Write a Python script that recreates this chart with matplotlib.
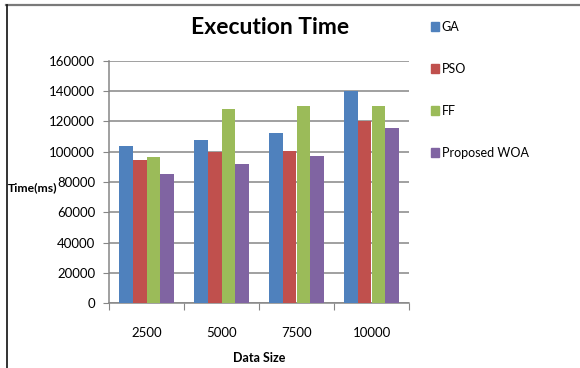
import matplotlib
matplotlib.use("Agg")
import matplotlib.pyplot as plt
from matplotlib.lines import Line2D
from matplotlib.patches import Patch
import numpy as np

plt.rcParams['font.family'] = ['Lato', 'DejaVu Sans']

sizes = ['2500', '5000', '7500', '10000']
ga = [104000, 108000, 112500, 140000]
pso = [94500, 100000, 100500, 120000]
ff = [96500, 128000, 130000, 130000]
woa = [85000, 92000, 97500, 115500]

series = [('GA', ga, '#4F81BD'), ('PSO', pso, '#C0504D'),
          ('FF', ff, '#9BBB59'), ('Proposed WOA', woa, '#8064A2')]

fig = plt.figure(figsize=(5.8, 3.68), dpi=100)
ax = fig.add_axes([109 / 580, 1 - 303 / 368, 300 / 580, 242 / 368])

x = np.arange(len(sizes))
w = 0.183
for i, (name, vals, col) in enumerate(series):
    ax.bar(x + (i - 1.5) * w, vals, w, color=col, label=name, zorder=3)

ax.set_xlim(-0.5, len(sizes) - 0.5)
ax.set_ylim(0, 160000)
ax.set_yticks(np.arange(0, 160001, 20000))
ax.yaxis.grid(True, color='#868686', linewidth=1.1, zorder=0)

# category labels sit between the boundary ticks
ax.set_xticks(np.arange(-0.5, len(sizes), 1))
ax.set_xticklabels([])
ax.set_xticks(x, minor=True)
ax.set_xticklabels(sizes, minor=True)
ax.tick_params(axis='x', which='minor', length=0, pad=17, labelsize=9.5)
ax.tick_params(axis='x', which='major', length=5, color='#868686')
ax.tick_params(axis='y', length=4, color='#868686', pad=6, labelsize=9.5)

for s in ['top', 'right']:
    ax.spines[s].set_visible(False)
for s in ['left', 'bottom']:
    ax.spines[s].set_color('#868686')
    ax.spines[s].set_linewidth(1.1)

fig.text(270 / 580, 1 - 27 / 368, 'Execution Time', ha='center', va='center',
         fontsize=16.5, fontweight='bold')
fig.text(33 / 580, 1 - 188 / 368, 'Time(ms)', ha='center', va='center',
         fontsize=8.8, fontweight='bold')
fig.text(259 / 580, 1 - 358 / 368, 'Data Size', ha='center', va='center',
         fontsize=9, fontweight='bold')

handles = [Patch(color=c) for _, _, c in series]
fig.legend(handles, [n for n, _, _ in series], loc='upper left',
           bbox_to_anchor=(431 / 580, 1 - 21 / 368), frameon=False,
           handlelength=0.6, handleheight=0.65, handletextpad=0.25,
           labelspacing=2.4, borderpad=0, borderaxespad=0, fontsize=9)

# frame around the image
fig.add_artist(Line2D([6 / 580, 1], [1 - 4.5 / 368] * 2, color='#7a7a7a', lw=1.6))
fig.add_artist(Line2D([7 / 580] * 2, [0, 1 - 4.5 / 368], color='#111111', lw=1.2))

fig.savefig('out.png', dpi=100)
